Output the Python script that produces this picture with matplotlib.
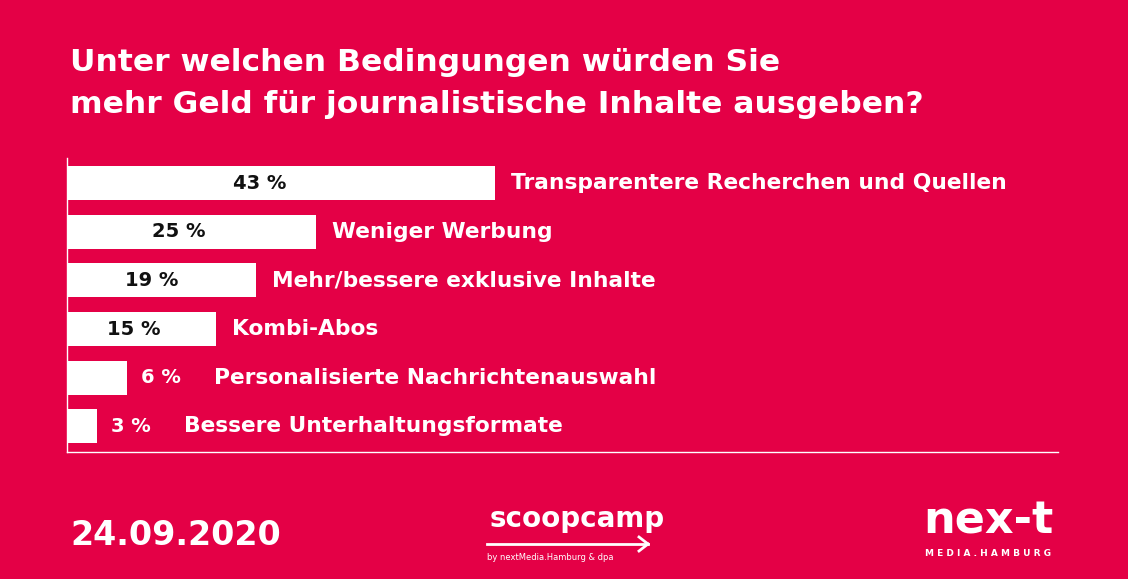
import matplotlib
matplotlib.use("Agg")
import matplotlib.pyplot as plt

# data
categories = [
    "Transparentere Recherchen und Quellen",
    "Weniger Werbung",
    "Mehr/bessere exklusive Inhalte",
    "Kombi-Abos",
    "Personalisierte Nachrichtenauswahl",
    "Bessere Unterhaltungsformate",
]
values = [43, 25, 19, 15, 6, 3]

title_lines = ["Unter welchen Bedingungen würden Sie",
               "mehr Geld für journalistische Inhalte ausgeben?"]
date_text = "24.09.2020"

##############################################################################
bg = "#E40046"
white = "white"

plt.rcParams["font.family"] = ["DejaVu Sans"]

fig = plt.figure(figsize=(11.28, 5.79), dpi=100, facecolor=bg)
ax = fig.add_axes([67/1128, 1-452/579, (1058-67)/1128, (452-158)/579])
ax.set_facecolor(bg)

ypos = list(range(len(values)))
ax.barh(ypos, values, height=0.7, color=white, left=0)
ax.set_xlim(0, 99.5)
ax.set_ylim(5.53, -0.52)

for s in ["top", "right"]:
    ax.spines[s].set_visible(False)
for s in ["left", "bottom"]:
    ax.spines[s].set_color(white)
    ax.spines[s].set_linewidth(1.0)
ax.set_xticks([])
ax.set_yticks([])

for y, v, cat in zip(ypos, values, categories):
    if v >= 10:
        ax.text(v*0.45, y, f"{v} %", ha="center", va="center",
                fontsize=14, fontweight="bold", color="#111111")
        ax.annotate(cat, xy=(v, y), xytext=(11.5, 0), textcoords="offset points",
                    ha="left", va="center", fontsize=15.7, fontweight="bold", color=white)
    else:
        ax.annotate(f"{v} %", xy=(v, y), xytext=(10.5, 0), textcoords="offset points",
                    ha="left", va="center", fontsize=14, fontweight="bold", color=white)
        ax.annotate(cat, xy=(v, y), xytext=(63, 0), textcoords="offset points",
                    ha="left", va="center", fontsize=15.7, fontweight="bold", color=white)

# title
fig.text(70/1128, 1-71/579, title_lines[0], fontsize=22.6, fontweight="bold",
         color=white, ha="left", va="baseline")
fig.text(70/1128, 1-113/579, title_lines[1], fontsize=22.6, fontweight="bold",
         color=white, ha="left", va="baseline")

# footer
fig.text(70/1128, 1-545/579, date_text, fontsize=24, fontweight="bold",
         color=white, ha="left", va="baseline")

# scoopcamp logo
fig.text(577/1128, 1-527/579, "scoopcamp", fontsize=20, fontweight="bold",
         color=white, ha="center", va="baseline")
fig.add_artist(matplotlib.lines.Line2D([487/1128, 648/1128], [1-544/579, 1-544/579],
                                       color=white, lw=2, transform=fig.transFigure))
fig.add_artist(matplotlib.lines.Line2D([639/1128, 648/1128], [1-537/579, 1-544/579],
                                       color=white, lw=2, transform=fig.transFigure))
fig.add_artist(matplotlib.lines.Line2D([639/1128, 648/1128], [1-551/579, 1-544/579],
                                       color=white, lw=2, transform=fig.transFigure))
fig.text(487/1128, 1-560/579, "by nextMedia.Hamburg & dpa", fontsize=6,
         color=white, ha="left", va="baseline")

# next media logo
fig.text(988/1128, 1-534/579, "nex-t", fontsize=32, fontweight="bold",
         color=white, ha="center", va="baseline")
fig.text(988/1128, 1-556/579, "M E D I A . H A M B U R G", fontsize=6.5,
         fontweight="bold", color=white, ha="center", va="baseline")

plt.savefig("out.png", dpi=100, facecolor=bg)
